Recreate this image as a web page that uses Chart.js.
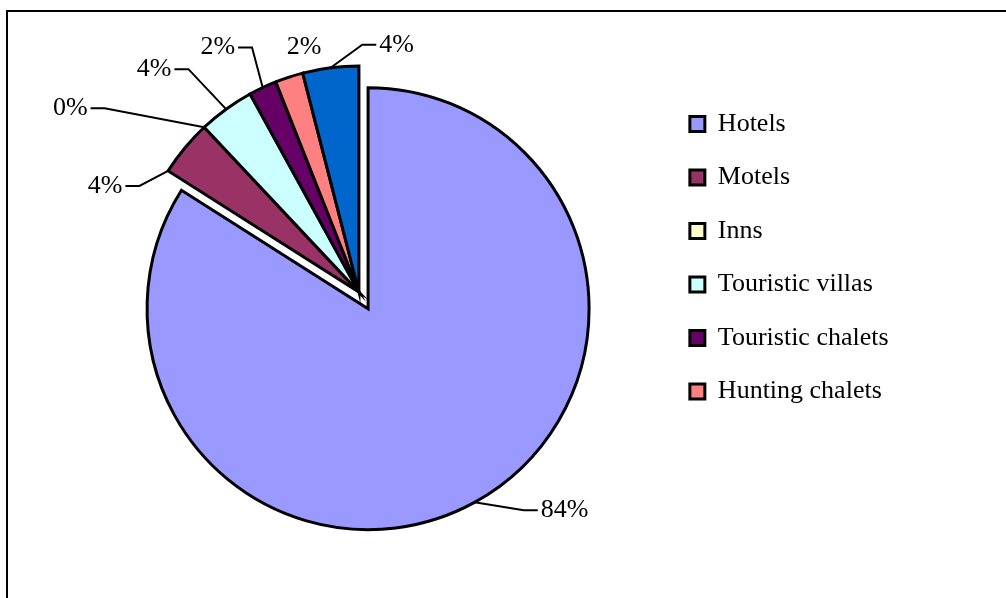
<!DOCTYPE html>
<html>
<head>
<meta charset="utf-8">
<script src="https://cdn.jsdelivr.net/npm/chart.js"></script>
<style>
  html, body { margin: 0; padding: 0; background: #fff; }
  #wrap { position: relative; width: 1006px; height: 598px; }
</style>
</head>
<body>
<div id="wrap"><canvas id="shareChart"></canvas></div>
<script>
const categories = ["Hotels", "Motels", "Inns", "Touristic villas", "Touristic chalets", "Hunting chalets", "Other"];
const shares = [84, 4, 0, 4, 2, 2, 4];
const sliceColors = ["#9999FF", "#993366", "#FFFFCC", "#CCFFFF", "#660066", "#FF8080", "#0066CC"];

// label centre, relative to the point on the rim where its leader line starts
const labelShift = [[90, 8], [-63, 15], [-134, -19], [-72, -40], [-45, -40], [15, -30], [66, -23]];
// where along the slice rim the leader starts (0 = start edge, 0.5 = middle)
const leaderAt = [0.5, 0, 0.5, 0.5, 0.5, 0.5, 0.5];

// pulls the first slice away from the centre
const explodeFirst = {
  id: "explodeFirst",
  afterUpdate(chart, args, opts) {
    const arc = chart.getDatasetMeta(0).data[0];
    if (!arc) return;
    const mid = (arc.startAngle + arc.endAngle) / 2;
    arc.x += Math.cos(mid) * opts.distance;
    arc.y += Math.sin(mid) * opts.distance;
    arc.outerRadius -= opts.shrink;
  }
};

// thin frame along the top and left edge
const frame = {
  id: "frame",
  beforeDraw(chart) {
    const ctx = chart.ctx;
    ctx.save();
    ctx.fillStyle = "#000";
    ctx.fillRect(6, 10, chart.width - 6, 2);
    ctx.fillRect(6, 10, 2, chart.height - 10);
    ctx.restore();
  }
};

// percentage labels with leader lines
const sliceLabels = {
  id: "sliceLabels",
  afterDatasetsDraw(chart) {
    const ctx = chart.ctx;
    const meta = chart.getDatasetMeta(0);
    const total = shares.reduce((a, b) => a + b, 0);
    ctx.save();
    ctx.font = "26px 'Liberation Serif'";
    ctx.fillStyle = "#000";
    ctx.strokeStyle = "#000";
    ctx.lineWidth = 2;
    ctx.textAlign = "center";
    ctx.textBaseline = "middle";
    meta.data.forEach((arc, i) => {
      const a = arc.startAngle + (arc.endAngle - arc.startAngle) * leaderAt[i];
      const ax = arc.x + Math.cos(a) * arc.outerRadius;
      const ay = arc.y + Math.sin(a) * arc.outerRadius;
      const lx = ax + labelShift[i][0];
      const ly = ay + labelShift[i][1];
      const text = Math.round(shares[i] / total * 100) + "%";
      const w = ctx.measureText(text).width;
      // no leader when the label already sits next to its slice
      const near = ax > lx - w / 2 - 24 && ax < lx + w / 2 + 24 && Math.abs(ay - ly) < 34;
      if (!near) {
        const dir = ax > lx ? 1 : -1;
        const x0 = lx + dir * (w / 2 + 3);
        const x1 = x0 + dir * 14;
        ctx.beginPath();
        ctx.moveTo(x0, ly);
        ctx.lineTo(x1, ly);
        ctx.lineTo(ax, ay);
        ctx.stroke();
      }
      ctx.fillText(text, lx, ly);
    });
    ctx.restore();
  }
};

Chart.defaults.font.family = "'Liberation Serif'";
Chart.defaults.color = "#000";

new Chart(document.getElementById("shareChart"), {
  type: "pie",
  data: {
    labels: categories,
    datasets: [{
      data: shares,
      backgroundColor: sliceColors,
      borderColor: "#000",
      borderWidth: 3,
      borderJoinStyle: "miter"
    }]
  },
  options: {
    responsive: true,
    maintainAspectRatio: false,
    animation: false,
    radius: 226,
    layout: { padding: { left: 55.5, right: 107.4, top: 83.5, bottom: 97.5 } },
    plugins: {
      explodeFirst: { distance: 19, shrink: 5 },
      tooltip: { enabled: false },
      legend: {
        position: "right",
        align: "start",
        labels: {
          boxWidth: 15,
          boxHeight: 15,
          padding: 27.5,
          font: { family: "'Liberation Serif'", size: 26 },
          color: "#000",
          filter: (item) => item.index < 6
        }
      }
    }
  },
  plugins: [frame, explodeFirst, sliceLabels]
});
</script>
</body>
</html>
